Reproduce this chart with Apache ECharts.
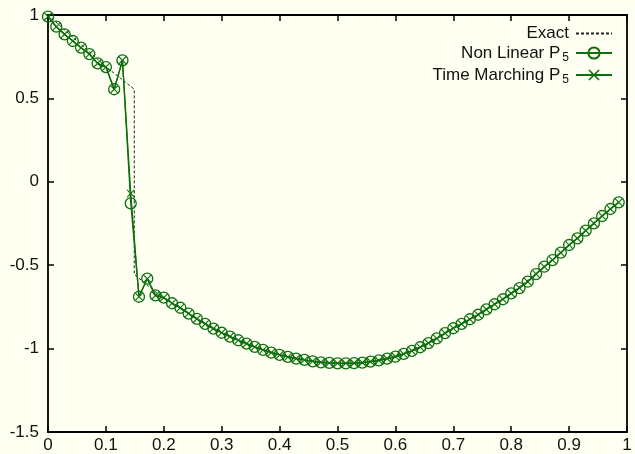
<!DOCTYPE html>
<html>
<head>
<meta charset="utf-8">
<script src="https://cdn.jsdelivr.net/npm/echarts@6/dist/echarts.min.js"></script>
<style>
  html, body { margin: 0; padding: 0; background: #fffff2; }
  #chart { width: 635px; height: 454px; }
</style>
</head>
<body>
<div id="chart"></div>
<script>
// node positions (x) shared by both numerical schemes
const xNodes = [
  0, 0.0143, 0.0286, 0.0429, 0.0571, 0.0714, 0.0857, 0.1, 0.1143, 0.1286,
  0.1429, 0.1571, 0.1714, 0.1857, 0.2, 0.2143, 0.2286, 0.2429, 0.2571, 0.2714,
  0.2857, 0.3, 0.3143, 0.3286, 0.3429, 0.3571, 0.3714, 0.3857, 0.4, 0.4143,
  0.4286, 0.4429, 0.4571, 0.4714, 0.4857, 0.5, 0.5143, 0.5286, 0.5429, 0.5571,
  0.5714, 0.5857, 0.6, 0.6143, 0.6286, 0.6429, 0.6571, 0.6714, 0.6857, 0.7,
  0.7143, 0.7286, 0.7429, 0.7571, 0.7714, 0.7857, 0.8, 0.8143, 0.8286, 0.8429,
  0.8571, 0.8714, 0.8857, 0.9, 0.9143, 0.9286, 0.9429, 0.9571, 0.9714, 0.9857
];
const nonLinear = [
  0.99, 0.93, 0.884, 0.844, 0.804, 0.766, 0.71, 0.688, 0.555, 0.728,
  -0.129, -0.689, -0.581, -0.681, -0.694, -0.728, -0.755, -0.790, -0.822, -0.852,
  -0.880, -0.905, -0.928, -0.950, -0.970, -0.990, -1.008, -1.024, -1.038, -1.050,
  -1.060, -1.068, -1.076, -1.082, -1.086, -1.088, -1.088, -1.087, -1.084, -1.078,
  -1.071, -1.060, -1.048, -1.032, -1.014, -0.992, -0.967, -0.939, -0.907, -0.878,
  -0.852, -0.824, -0.797, -0.765, -0.734, -0.704, -0.669, -0.637, -0.599, -0.553,
  -0.509, -0.469, -0.425, -0.379, -0.339, -0.293, -0.249, -0.205, -0.163, -0.123
];
const timeMarching = [
  0.99, 0.93, 0.884, 0.844, 0.804, 0.766, 0.71, 0.688, 0.555, 0.728,
  -0.07, -0.689, -0.581, -0.681, -0.694, -0.728, -0.755, -0.790, -0.822, -0.852,
  -0.880, -0.905, -0.928, -0.950, -0.970, -0.990, -1.008, -1.024, -1.038, -1.050,
  -1.060, -1.068, -1.076, -1.082, -1.086, -1.088, -1.088, -1.087, -1.084, -1.078,
  -1.071, -1.060, -1.048, -1.032, -1.014, -0.992, -0.967, -0.939, -0.907, -0.878,
  -0.852, -0.824, -0.797, -0.765, -0.734, -0.704, -0.669, -0.637, -0.599, -0.553,
  -0.509, -0.469, -0.425, -0.379, -0.339, -0.293, -0.249, -0.205, -0.163, -0.123
];
const exactX = [0, 0.05, 0.1, 0.149, 0.149, 0.175, 0.2, 0.25, 0.3, 0.35, 0.4, 0.45,
  0.5, 0.55, 0.6, 0.65, 0.7, 0.75, 0.8, 0.85, 0.9, 0.95, 0.9857];
const exactY = [1.0, 0.845, 0.69, 0.555, -0.555, -0.63, -0.70, -0.806, -0.905, -0.98, -1.038, -1.072,
  -1.088, -1.081, -1.048, -0.98, -0.878, -0.78, -0.669, -0.53, -0.379, -0.227, -0.123];
const xTicks = ['0', '0.1', '0.2', '0.3', '0.4', '0.5', '0.6', '0.7', '0.8', '0.9', '1'];
const yTicks = ['-1.5', '-1', '-0.5', '0', '0.5', '1'];

const green = '#0b700b';
const font = 'Liberation Sans, Arial, sans-serif';
const zip = (xs, ys) => xs.map((x, i) => [x, ys[i]]);

let chart = echarts.init(document.getElementById('chart'));
const frame = { show: true, onZero: false, lineStyle: { color: '#000', width: 1.8 } };
const tick = { show: true, inside: true, length: 6, lineStyle: { color: '#000', width: 1.5 } };
chart.setOption({
  animation: false,
  backgroundColor: '#fffff2',
  textStyle: { fontFamily: font },
  grid: { left: 48, right: 8, top: 15, bottom: 22 },
  legend: {
    orient: 'vertical',
    align: 'right',
    right: 17,
    top: 20,
    itemWidth: 36,
    itemHeight: 14,
    itemGap: 0,
    selectedMode: false,
    data: [
      { name: 'Exact', itemStyle: { color: 'rgba(0,0,0,0)', borderWidth: 0 } },
      'Non Linear P5',
      'Time Marching P5'
    ],
    formatter: name => {
      if (name === 'Exact') return '{t|Exact}';
      return '{t|' + name.slice(0, -1) + '}{s|5}';
    },
    textStyle: {
      rich: {
        t: { fontSize: 17, lineHeight: 20, color: '#111', fontFamily: font, padding: [0, 2, 0, 0] },
        s: { fontSize: 12, lineHeight: 10, color: '#111', fontFamily: font, padding: [10, 2, 0, 0] }
      }
    }
  },
  xAxis: [
    {
      type: 'value', min: 0, max: 1, interval: 0.1,
      axisLine: frame, axisTick: tick, splitLine: { show: false },
      axisLabel: { color: '#111', fontSize: 17, margin: 5, formatter: (v, i) => xTicks[i] }
    },
    {
      type: 'value', position: 'top', min: 0, max: 1, interval: 0.1,
      axisLine: frame, axisTick: tick, splitLine: { show: false }, axisLabel: { show: false }
    }
  ],
  yAxis: [
    {
      type: 'value', min: -1.5, max: 1, interval: 0.5,
      axisLine: frame, axisTick: tick, splitLine: { show: false },
      axisLabel: { color: '#111', fontSize: 17, margin: 9, formatter: (v, i) => yTicks[i] }
    },
    {
      type: 'value', position: 'right', min: -1.5, max: 1, interval: 0.5,
      axisLine: frame, axisTick: tick, splitLine: { show: false }, axisLabel: { show: false }
    }
  ],
  series: [
    {
      name: 'Exact',
      type: 'line',
      data: zip(exactX, exactY),
      showSymbol: false,
      symbol: 'none',
      lineStyle: { color: '#222', width: 1, type: [3, 2] },
      itemStyle: { color: '#222' }
    },
    {
      name: 'Non Linear P5',
      type: 'line',
      data: zip(xNodes, nonLinear),
      symbol: 'circle',
      symbolSize: 11,
      lineStyle: { color: green, width: 1.3 },
      itemStyle: { color: 'rgba(0,0,0,0)', borderColor: green, borderWidth: 1.3 }
    },
    {
      name: 'Time Marching P5',
      type: 'line',
      data: zip(xNodes, timeMarching),
      symbol: 'path://M0,1L1,0L5,4L9,0L10,1L6,5L10,9L9,10L5,6L1,10L0,9L4,5Z',
      symbolSize: 8,
      lineStyle: { color: green, width: 1.3 },
      itemStyle: { color: green }
    }
  ]
});
</script>
</body>
</html>
